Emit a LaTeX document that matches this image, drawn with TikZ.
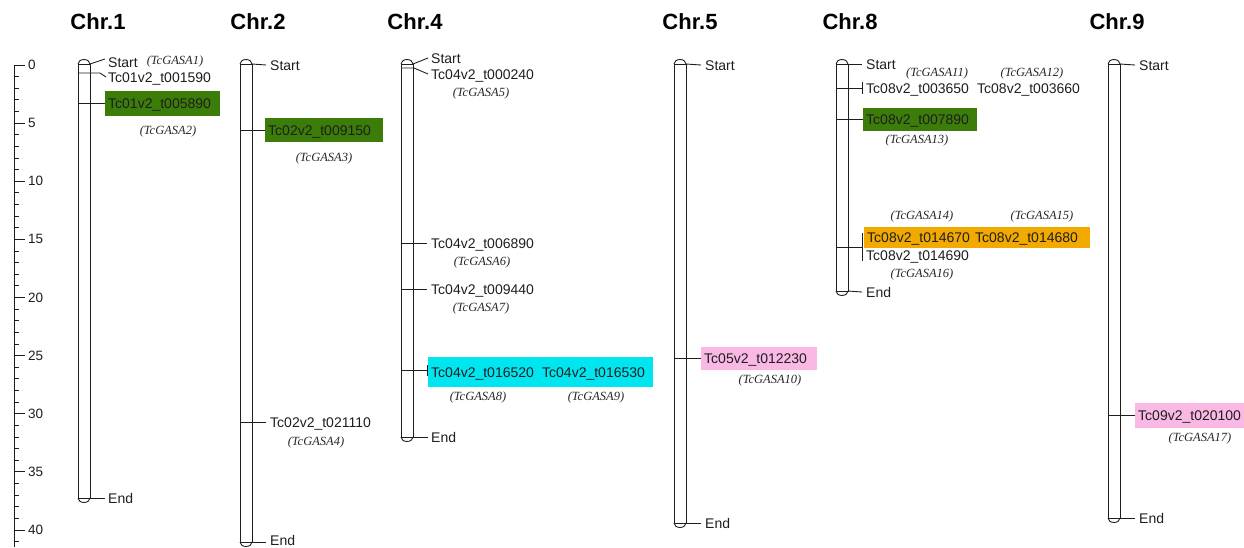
\documentclass[tikz,border=0pt]{standalone}
\usepackage{fontspec}
\setmainfont{Liberation Sans}
\newfontfamily\gasafont{Liberation Serif}
\definecolor{gboxc}{RGB}{60,125,10}
\definecolor{cboxc}{RGB}{0,230,240}
\definecolor{pboxc}{RGB}{250,185,228}
\definecolor{oboxc}{RGB}{242,170,0}
\definecolor{inkc}{RGB}{30,30,30}
\newcommand\chrbar[3]{%
  \draw[ln] ({#1-6},#2) rectangle ({#1+6},#3);
  \draw[ln] ({#1-6},#2) arc[start angle=180,end angle=0,x radius=6pt,y radius=4.5pt];
  \draw[ln] ({#1-6},#3) arc[start angle=180,end angle=360,x radius=6pt,y radius=4.5pt];}
\begin{document}
\begin{tikzpicture}[x=1pt,y=-1pt,
  ln/.style={draw=inkc,line width=0.9pt},
  lbl/.style={anchor=west,inner sep=0pt,text height=10pt,text depth=0pt,font=\fontsize{14}{14}\selectfont,text=inkc},
  hbox/.style={anchor=west,inner xsep=3pt,inner ysep=0pt,text height=10pt,text depth=0pt,font=\fontsize{14}{14}\selectfont,text=inkc},
  gasa/.style={inner sep=0pt,font=\gasafont\itshape\fontsize{12.5}{12.5}\selectfont,text=black!85},
  ttl/.style={inner sep=0pt,font=\bfseries\fontsize{22}{22}\selectfont},
  sclbl/.style={anchor=west,inner sep=0pt,text height=9pt,text depth=0pt,font=\fontsize{13.5}{13.5}\selectfont,text=inkc}]
\useasboundingbox (0,0) rectangle (1244,547);
% scale
\draw[ln] (14,64.5) -- (14,547);
\foreach \i in {0,...,41}{%
  \pgfmathsetmacro\yy{65+11.625*\i}
  \pgfmathtruncatemacro\mm{mod(\i,5)}
  \ifnum\mm=0 \draw[ln] (13.5,\yy) -- (25,\yy); \else \draw[ln] (13.5,\yy) -- (19,\yy); \fi}
\foreach \v in {0,5,...,40}{\node[sclbl] (sc\v) at (28,{65+11.625*\v}) {\v};}
% titles
\node[ttl] (t1) at (98,22) {Chr.1};
\node[ttl] (t2) at (258,22) {Chr.2};
\node[ttl] (t4) at (415,22) {Chr.4};
\node[ttl] (t5) at (690,22) {Chr.5};
\node[ttl] (t8) at (850,22) {Chr.8};
\node[ttl] (t9) at (1117,22) {Chr.9};
% bars
\chrbar{84}{64}{498}
\chrbar{246}{64}{542}
\chrbar{407}{64}{437}
\chrbar{680}{64}{523}
\chrbar{842}{64}{291}
\chrbar{1114}{64}{518}
% Chr.1
\node[lbl] (c1s) at (108,62) {Start};
\node[gasa] (c1g1) at (175,61) {(TcGASA1)};
\node[lbl] (c1a) at (108,77) {Tc01v2\_t001590};
\node[hbox,fill=gboxc,minimum height=25pt] (c1b) at (105,103) {\makebox[109pt][l]{Tc01v2\_t005890}};
\node[gasa] (c1g2) at (168,131) {(TcGASA2)};
\node[lbl] (c1e) at (108,498) {End};
\draw[ln] (90,64) -- ([shift={(-3,-3)}]c1s.west);
\draw[ln] (78,73) -- (100,73) -- ([xshift=-2pt]c1a.west);
\draw[ln] (78,103) -- (c1b.west);
\draw[ln] (90,498) -- ([xshift=-3pt]c1e.west);
% Chr.2
\node[lbl] (c2s) at (270,65) {Start};
\node[hbox,fill=gboxc,minimum height=24pt] (c2a) at (265,130) {\makebox[112pt][l]{Tc02v2\_t009150}};
\node[gasa] (c2g3) at (324,158) {(TcGASA3)};
\node[lbl] (c2b) at (270,422) {Tc02v2\_t021110};
\node[gasa] (c2g4) at (316,442) {(TcGASA4)};
\node[lbl] (c2e) at (270,540) {End};
\draw[ln] (252,64) -- ([xshift=-4pt]c2s.west);
\draw[ln] (240,130) -- (c2a.west);
\draw[ln] (240,422) -- ([xshift=-4pt]c2b.west);
\draw[ln] (252,542) -- ([shift={(-4,2)}]c2e.west);
% Chr.4
\node[lbl] (c4s) at (431,58) {Start};
\node[lbl] (c4a) at (431,74) {Tc04v2\_t000240};
\node[gasa] (c4g5) at (481,93) {(TcGASA5)};
\node[lbl] (c4b) at (431,243) {Tc04v2\_t006890};
\node[gasa] (c4g6) at (482,262) {(TcGASA6)};
\node[lbl] (c4c) at (431,289) {Tc04v2\_t009440};
\node[gasa] (c4g7) at (481,308) {(TcGASA7)};
\node[hbox,fill=cboxc,minimum height=30pt] (c4d) at (428,372) {\makebox[219pt][l]{\makebox[111pt][l]{Tc04v2\_t016520}Tc04v2\_t016530}};
\node[gasa] (c4g8) at (478,397) {(TcGASA8)};
\node[gasa] (c4g9) at (596,397) {(TcGASA9)};
\node[lbl] (c4e) at (431,437) {End};
\coordinate (m4d) at (427,370);
\draw[ln] (413,64) -- ([xshift=-3pt]c4s.west);
\draw[ln] (401,68) -- (414,68) -- ([xshift=-3pt]c4a.west);
\draw[ln] (401,243) -- ([xshift=-4pt]c4b.west);
\draw[ln] (401,289) -- ([xshift=-4pt]c4c.west);
\draw[ln] (401,370) -- (m4d);
\draw[ln] ([yshift=5pt]m4d) -- ([yshift=-6pt]m4d);
\draw[ln] (413,437) -- ([xshift=-3pt]c4e.west);
% Chr.5
\node[lbl] (c5s) at (705,65) {Start};
\node[hbox,fill=pboxc,minimum height=23pt] (c5a) at (701,358) {\makebox[110pt][l]{Tc05v2\_t012230}};
\node[gasa] (c5g10) at (770,380) {(TcGASA10)};
\node[lbl] (c5e) at (705,523) {End};
\draw[ln] (686,64) -- ([xshift=-4pt]c5s.west);
\draw[ln] (674,358) -- (c5a.west);
\draw[ln] (686,523) -- ([xshift=-4pt]c5e.west);
% Chr.8
\node[lbl] (c8s) at (866,64) {Start};
\node[gasa] (c8g11) at (937,73) {(TcGASA11)};
\node[gasa] (c8g12) at (1032,73) {(TcGASA12)};
\node[lbl] (c8a) at (866,88) {\makebox[111pt][l]{Tc08v2\_t003650}Tc08v2\_t003660};
\node[hbox,fill=gboxc,minimum height=23pt] (c8b) at (863,119) {\makebox[108pt][l]{Tc08v2\_t007890}};
\node[gasa] (c8g13) at (917,140) {(TcGASA13)};
\node[gasa] (c8g14) at (922,216) {(TcGASA14)};
\node[gasa] (c8g15) at (1042,216) {(TcGASA15)};
\node[hbox,fill=oboxc,minimum height=21pt] (c8c) at (864,237.5) {\makebox[220pt][l]{\makebox[108pt][l]{Tc08v2\_t014670}Tc08v2\_t014680}};
\node[lbl] (c8d) at (866,255) {Tc08v2\_t014690};
\node[gasa] (c8g16) at (922,274) {(TcGASA16)};
\node[lbl] (c8e) at (866,292) {End};
\coordinate (m8a) at (862,88);
\coordinate (m8c) at (862,247);
\draw[ln] (848,64) -- ([xshift=-4pt]c8s.west);
\draw[ln] (836,88) -- (m8a);
\draw[ln] ([yshift=6pt]m8a) -- ([yshift=-6pt]m8a);
\draw[ln] (836,119) -- (c8b.west);
\draw[ln] (836,247) -- (m8c);
\draw[ln] (862,233) -- (862,261);
\draw[ln] (848,291) -- ([xshift=-4pt]c8e.west);
% Chr.9
\node[lbl] (c9s) at (1139,65) {Start};
\node[hbox,fill=pboxc,minimum height=25pt] (c9a) at (1135,415) {\makebox[112pt][l]{Tc09v2\_t020100}};
\node[gasa] (c9g17) at (1200,438) {(TcGASA17)};
\node[lbl] (c9e) at (1139,518) {End};
\draw[ln] (1120,64) -- ([xshift=-4pt]c9s.west);
\draw[ln] (1108,415) -- (c9a.west);
\draw[ln] (1120,518) -- ([xshift=-4pt]c9e.west);
\end{tikzpicture}
\end{document}
